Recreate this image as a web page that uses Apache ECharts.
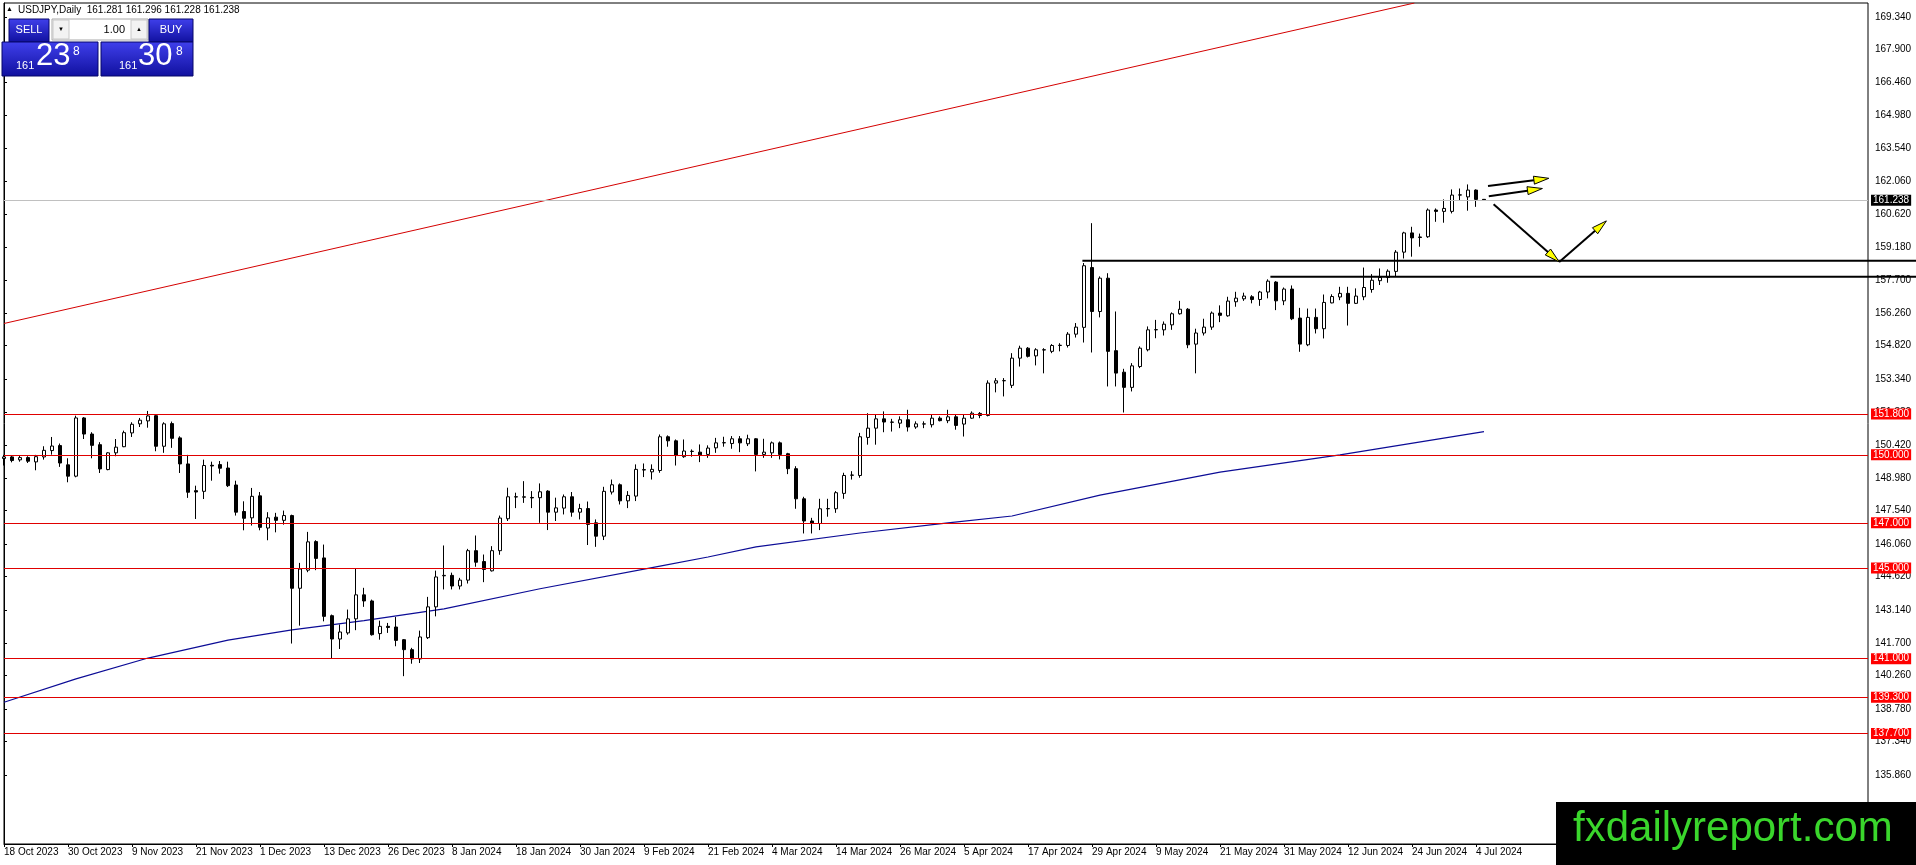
<!DOCTYPE html>
<html>
<head>
<meta charset="utf-8">
<title>USDJPY Daily</title>
<script src="https://cdn.jsdelivr.net/npm/echarts@6/dist/echarts.min.js"></script>
<style>
html, body { margin: 0; padding: 0; background: #fff; }
#box { width: 1916px; height: 865px; }
</style>
</head>
<body>
<div id="box"></div>
<script>
// trading days shown on the chart (no bars on 25 Dec and 1 Jan)
var dates = [
    '18 Oct 2023', '19 Oct 2023', '20 Oct 2023', '23 Oct 2023', '24 Oct 2023', '25 Oct 2023', '26 Oct 2023', '27 Oct 2023', '30 Oct 2023', '31 Oct 2023',
    '1 Nov 2023', '2 Nov 2023', '3 Nov 2023', '6 Nov 2023', '7 Nov 2023', '8 Nov 2023', '9 Nov 2023', '10 Nov 2023', '13 Nov 2023', '14 Nov 2023', '15 Nov 2023',
    '16 Nov 2023', '17 Nov 2023', '20 Nov 2023', '21 Nov 2023', '22 Nov 2023', '23 Nov 2023', '24 Nov 2023', '27 Nov 2023', '28 Nov 2023', '29 Nov 2023', '30 Nov 2023',
    '1 Dec 2023', '4 Dec 2023', '5 Dec 2023', '6 Dec 2023', '7 Dec 2023', '8 Dec 2023', '11 Dec 2023', '12 Dec 2023', '13 Dec 2023', '14 Dec 2023',
    '15 Dec 2023', '18 Dec 2023', '19 Dec 2023', '20 Dec 2023', '21 Dec 2023', '22 Dec 2023', '26 Dec 2023', '27 Dec 2023', '28 Dec 2023', '29 Dec 2023',
    '2 Jan 2024', '3 Jan 2024', '4 Jan 2024', '5 Jan 2024', '8 Jan 2024', '9 Jan 2024', '10 Jan 2024', '11 Jan 2024', '12 Jan 2024', '15 Jan 2024', '16 Jan 2024',
    '17 Jan 2024', '18 Jan 2024', '19 Jan 2024', '22 Jan 2024', '23 Jan 2024', '24 Jan 2024', '25 Jan 2024', '26 Jan 2024', '29 Jan 2024', '30 Jan 2024', '31 Jan 2024',
    '1 Feb 2024', '2 Feb 2024', '5 Feb 2024', '6 Feb 2024', '7 Feb 2024', '8 Feb 2024', '9 Feb 2024', '12 Feb 2024', '13 Feb 2024', '14 Feb 2024', '15 Feb 2024',
    '16 Feb 2024', '19 Feb 2024', '20 Feb 2024', '21 Feb 2024', '22 Feb 2024', '23 Feb 2024', '26 Feb 2024', '27 Feb 2024', '28 Feb 2024', '29 Feb 2024',
    '1 Mar 2024', '4 Mar 2024', '5 Mar 2024', '6 Mar 2024', '7 Mar 2024', '8 Mar 2024', '11 Mar 2024', '12 Mar 2024', '13 Mar 2024', '14 Mar 2024', '15 Mar 2024',
    '18 Mar 2024', '19 Mar 2024', '20 Mar 2024', '21 Mar 2024', '22 Mar 2024', '25 Mar 2024', '26 Mar 2024', '27 Mar 2024', '28 Mar 2024', '29 Mar 2024',
    '1 Apr 2024', '2 Apr 2024', '3 Apr 2024', '4 Apr 2024', '5 Apr 2024', '8 Apr 2024', '9 Apr 2024', '10 Apr 2024', '11 Apr 2024', '12 Apr 2024', '15 Apr 2024',
    '16 Apr 2024', '17 Apr 2024', '18 Apr 2024', '19 Apr 2024', '22 Apr 2024', '23 Apr 2024', '24 Apr 2024', '25 Apr 2024', '26 Apr 2024', '29 Apr 2024', '30 Apr 2024',
    '1 May 2024', '2 May 2024', '3 May 2024', '6 May 2024', '7 May 2024', '8 May 2024', '9 May 2024', '10 May 2024', '13 May 2024', '14 May 2024', '15 May 2024', '16 May 2024',
    '17 May 2024', '20 May 2024', '21 May 2024', '22 May 2024', '23 May 2024', '24 May 2024', '27 May 2024', '28 May 2024', '29 May 2024', '30 May 2024', '31 May 2024',
    '3 Jun 2024', '4 Jun 2024', '5 Jun 2024', '6 Jun 2024', '7 Jun 2024', '10 Jun 2024', '11 Jun 2024', '12 Jun 2024', '13 Jun 2024', '14 Jun 2024',
    '17 Jun 2024', '18 Jun 2024', '19 Jun 2024', '20 Jun 2024', '21 Jun 2024', '24 Jun 2024', '25 Jun 2024', '26 Jun 2024', '27 Jun 2024', '28 Jun 2024',
    '1 Jul 2024', '2 Jul 2024', '3 Jul 2024', '4 Jul 2024', '5 Jul 2024'
];

// [open, high, low, close] per day
var ohlc = [
    [149.84, 150.00, 149.53, 149.91], [149.91, 149.97, 149.67, 149.75], [149.78, 149.97, 149.70, 149.88], [149.88, 149.94, 149.64, 149.72],
    [149.69, 150.00, 149.32, 149.92], [149.91, 150.38, 149.79, 150.20], [150.19, 150.79, 150.01, 150.39], [150.41, 150.50, 149.47, 149.64],
    [149.56, 149.85, 148.79, 149.06], [149.06, 151.73, 149.01, 151.63], [151.63, 151.67, 150.70, 150.92], [150.92, 151.00, 149.85, 150.42],
    [150.45, 150.56, 149.20, 149.38], [149.35, 150.12, 149.32, 150.09], [150.09, 150.70, 149.94, 150.34], [150.36, 151.07, 150.34, 150.98],
    [150.97, 151.44, 150.79, 151.35], [151.37, 151.63, 151.23, 151.53], [151.50, 151.94, 151.20, 151.72], [151.73, 151.79, 150.16, 150.38],
    [150.38, 151.44, 150.09, 151.37], [151.38, 151.47, 150.31, 150.73], [150.75, 150.82, 149.20, 149.60], [149.60, 150.00, 148.10, 148.35],
    [148.42, 148.64, 147.17, 148.36], [148.39, 149.79, 148.05, 149.53], [149.54, 149.70, 148.86, 149.51], [149.57, 149.73, 149.17, 149.41],
    [149.42, 149.70, 148.58, 148.64], [148.67, 148.86, 147.32, 147.47], [147.50, 147.95, 146.67, 147.20], [147.22, 148.54, 146.88, 148.17],
    [148.19, 148.36, 146.67, 146.80], [146.77, 147.47, 146.23, 147.22], [147.25, 147.44, 146.58, 147.11], [147.11, 147.54, 146.92, 147.32],
    [147.32, 147.36, 141.67, 144.11], [144.11, 145.23, 142.46, 144.96], [144.91, 146.60, 144.82, 146.16], [146.17, 146.23, 144.91, 145.43],
    [145.45, 146.04, 142.65, 142.87], [142.90, 142.95, 141.02, 141.87], [141.87, 142.51, 141.43, 142.18], [142.14, 143.17, 142.06, 142.76],
    [142.76, 145.00, 142.26, 143.82], [143.82, 144.13, 143.29, 143.55], [143.55, 143.61, 142.02, 142.06], [142.11, 142.68, 141.84, 142.43],
    [142.43, 142.58, 142.14, 142.38], [142.40, 142.84, 141.55, 141.81], [141.84, 141.87, 140.23, 141.40], [141.40, 141.48, 140.78, 140.99],
    [140.99, 142.24, 140.81, 141.96], [141.93, 143.73, 141.87, 143.29], [143.29, 144.89, 142.87, 144.61], [144.66, 146.00, 144.06, 144.68],
    [144.68, 144.80, 144.06, 144.21], [144.21, 144.57, 144.06, 144.47], [144.47, 145.85, 144.32, 145.77], [145.77, 146.44, 145.06, 145.26],
    [145.29, 145.60, 144.38, 144.94], [144.88, 145.97, 144.85, 145.77], [145.77, 147.32, 145.59, 147.21], [147.18, 148.55, 147.08, 148.15],
    [148.15, 148.33, 147.65, 148.14], [148.13, 148.84, 147.88, 148.15], [148.12, 148.40, 147.65, 148.10], [148.11, 148.74, 147.00, 148.37],
    [148.40, 148.44, 146.68, 147.47], [147.47, 148.11, 147.08, 147.66], [147.65, 148.25, 147.37, 148.15], [148.15, 148.36, 147.27, 147.47],
    [147.47, 147.84, 147.15, 147.63], [147.63, 147.94, 146.02, 146.93], [147.00, 147.15, 145.94, 146.41], [146.41, 148.59, 146.24, 148.39],
    [148.36, 148.91, 148.25, 148.68], [148.68, 148.74, 147.81, 147.97], [147.97, 148.40, 147.65, 148.21], [148.18, 149.58, 147.96, 149.36],
    [149.33, 149.62, 149.02, 149.35], [149.25, 149.58, 148.91, 149.36], [149.31, 150.90, 149.21, 150.80], [150.80, 150.86, 150.36, 150.62],
    [150.62, 150.68, 149.53, 149.97], [149.92, 150.68, 149.87, 150.17], [150.15, 150.24, 149.92, 150.16], [150.12, 150.46, 149.68, 150.00],
    [150.02, 150.42, 149.87, 150.30], [150.31, 150.75, 150.09, 150.53], [150.53, 150.80, 150.36, 150.54], [150.50, 150.83, 150.27, 150.71],
    [150.71, 150.83, 150.12, 150.53], [150.49, 150.89, 150.39, 150.71], [150.71, 150.74, 149.27, 150.02], [150.02, 150.71, 149.87, 150.12],
    [150.09, 150.59, 149.87, 150.53], [150.53, 150.59, 149.80, 150.02], [150.05, 150.09, 149.15, 149.39], [149.39, 149.50, 147.62, 148.06],
    [148.06, 148.15, 146.53, 147.08], [147.08, 147.22, 146.53, 146.97], [146.97, 148.06, 146.68, 147.62], [147.62, 148.06, 147.27, 147.63],
    [147.62, 148.40, 147.44, 148.33], [148.30, 149.21, 148.06, 149.09], [149.10, 149.28, 148.91, 149.11], [149.09, 150.97, 148.99, 150.80],
    [150.77, 151.84, 150.45, 151.18], [151.18, 151.80, 150.45, 151.59], [151.59, 151.92, 151.00, 151.45], [151.45, 151.59, 151.03, 151.44],
    [151.40, 151.70, 151.18, 151.55], [151.55, 151.99, 151.03, 151.23], [151.23, 151.48, 151.15, 151.37], [151.36, 151.48, 151.18, 151.37],
    [151.33, 151.77, 151.21, 151.62], [151.62, 151.70, 151.48, 151.51], [151.51, 151.99, 151.40, 151.68], [151.68, 151.77, 151.11, 151.30],
    [151.36, 151.77, 150.81, 151.62], [151.62, 151.92, 151.59, 151.84], [151.83, 151.89, 151.62, 151.74], [151.74, 153.29, 151.70, 153.17],
    [153.17, 153.39, 152.76, 153.27], [153.27, 153.39, 152.58, 153.28], [153.07, 154.49, 152.95, 154.27], [154.27, 154.82, 153.90, 154.71],
    [154.71, 154.76, 154.30, 154.35], [154.37, 154.71, 153.95, 154.64], [154.64, 154.71, 153.60, 154.63], [154.57, 154.89, 154.49, 154.83],
    [154.83, 154.93, 154.57, 154.84], [154.83, 155.42, 154.74, 155.33], [155.33, 155.82, 155.18, 155.64], [155.63, 158.47, 154.96, 158.35],
    [158.27, 160.23, 154.52, 156.33], [156.33, 157.88, 156.07, 157.80], [157.80, 158.02, 153.02, 154.57], [154.60, 156.33, 153.02, 153.61],
    [153.65, 153.80, 151.87, 152.98], [152.98, 154.05, 152.80, 153.93], [153.90, 154.79, 153.83, 154.71], [154.64, 155.67, 154.57, 155.52],
    [155.52, 155.96, 155.15, 155.53], [155.52, 155.89, 155.27, 155.77], [155.74, 156.29, 155.52, 156.23], [156.23, 156.80, 156.19, 156.43],
    [156.43, 156.48, 154.71, 154.86], [154.89, 155.57, 153.60, 155.38], [155.38, 156.01, 155.27, 155.64], [155.64, 156.33, 155.52, 156.26],
    [156.26, 156.60, 155.86, 156.16], [156.14, 156.98, 156.10, 156.79], [156.76, 157.20, 156.54, 156.92], [156.89, 157.16, 156.80, 157.01],
    [156.98, 157.05, 156.69, 156.86], [156.86, 157.24, 156.58, 157.19], [157.19, 157.75, 156.91, 157.67], [157.63, 157.67, 156.39, 156.80],
    [156.80, 157.39, 156.61, 157.32], [157.32, 157.48, 155.95, 156.01], [156.04, 156.49, 154.55, 154.89], [154.86, 156.46, 154.80, 156.07],
    [156.07, 156.46, 155.36, 155.57], [155.57, 157.08, 155.14, 156.73], [156.71, 157.09, 156.69, 156.99], [156.97, 157.42, 156.83, 157.13],
    [157.13, 157.42, 155.71, 156.69], [156.69, 157.35, 156.66, 157.01], [156.98, 158.27, 156.83, 157.39], [157.30, 157.98, 157.16, 157.71],
    [157.69, 158.23, 157.50, 157.83], [157.83, 158.19, 157.60, 158.11], [158.10, 159.04, 157.86, 158.95], [158.95, 159.85, 158.67, 159.80],
    [159.80, 160.07, 158.75, 159.58], [159.62, 159.77, 159.19, 159.60], [159.63, 160.88, 159.58, 160.81], [160.81, 160.88, 160.29, 160.75],
    [160.75, 161.28, 160.25, 160.88], [160.75, 161.72, 160.66, 161.47], [161.47, 161.76, 161.25, 161.48], [161.39, 161.94, 160.78, 161.69],
    [161.69, 161.72, 160.95, 161.28], [161.281, 161.296, 161.228, 161.238]
];

// moving average read at a few bars: [bar index, value]
var maPoints = [
    [0, 139.08], [9, 140.11], [18, 141.03], [28, 141.82], [36, 142.27], [45, 142.68], [55, 143.20], [67, 144.09], [82, 145.09],
    [88, 145.49], [94, 145.94], [107, 146.55], [118, 147.00], [126, 147.30], [137, 148.22], [152, 149.24], [167, 150.00], [185, 151.03]
];

var priceTicks = [169.34, 167.90, 166.46, 164.98, 163.54, 162.06, 160.62, 159.18, 157.70, 156.26, 154.82, 153.34, 151.88,
    150.42, 148.98, 147.54, 146.06, 144.62, 143.14, 141.70, 140.26, 138.78, 137.34, 135.86];
var levels = [151.8, 150.0, 147.0, 145.0, 141.0, 139.3, 137.7];
var lastPrice = 161.238;
// black horizontal lines: [start bar, price]
var zones = [[134.8, 158.57], [158.3, 157.86]];
var trendLine = [[0, 155.80], [176.3, 169.95]];
// arrows: [from bar, from price, to bar, to price]
var arrows = [
    [185.5, 161.87, 193.1, 162.21],
    [185.6, 161.42, 192.3, 161.76],
    [186.2, 161.06, 194.4, 158.52],
    [194.4, 158.52, 200.3, 160.33]
];

var SLOTS = 234; // bars + empty space on the right
var cats = dates.slice();
while (cats.length < SLOTS) cats.push('');
var font = '"Liberation Sans", Arial, sans-serif';

function showDate(i, v) { return i % 8 === 0 && v !== ''; }

var myChart = echarts.init(document.getElementById('box'));
var option = {
    animation: false,
    backgroundColor: '#ffffff',
    grid: {
        left: 4, right: 48, top: 3, bottom: 21,
        show: true, borderColor: '#000', borderWidth: 1,
        outerBoundsMode: 'none'
    },
    xAxis: [{
        type: 'category',
        data: cats,
        boundaryGap: false,
        axisLine: { lineStyle: { color: '#000' } },
        axisTick: { length: 3, interval: showDate, lineStyle: { color: '#000' } },
        axisLabel: { interval: showDate, align: 'left', margin: 3, fontSize: 10, color: '#000', fontFamily: font },
        splitLine: { show: false }
    }, {
        type: 'value', min: 0, max: SLOTS - 1, show: false
    }],
    yAxis: [{
        type: 'value',
        position: 'right',
        min: 132.82,
        max: 169.95,
        axisLine: { show: true, lineStyle: { color: '#000' } },
        axisTick: { show: true, length: 3, customValues: priceTicks, lineStyle: { color: '#000' } },
        axisLabel: {
            customValues: priceTicks,
            formatter: function (v) { return v.toFixed(3); },
            fontSize: 10, color: '#000', margin: 7, fontFamily: font
        },
        splitLine: { show: false }
    }],
    series: [
        {
            name: 'MA',
            type: 'line',
            xAxisIndex: 1,
            data: maPoints,
            symbol: 'none',
            lineStyle: { color: '#0c0c96', width: 1.2 },
            z: 1
        },
        {
            name: 'trend',
            type: 'line',
            xAxisIndex: 1,
            data: trendLine,
            symbol: 'none',
            lineStyle: { color: '#d40000', width: 1 },
            z: 1
        },
        {
            name: 'USDJPY',
            type: 'candlestick',
            xAxisIndex: 0,
            data: ohlc.map(function (d) { return [d[0], d[3], d[2], d[1]]; }),
            barWidth: 4,
            itemStyle: { color: '#ffffff', color0: '#000000', borderColor: '#000000', borderColor0: '#000000', borderWidth: 1 },
            z: 3,
            markLine: {
                silent: true,
                symbol: ['none', 'none'],
                data: levels.map(function (v) {
                    return {
                        name: v.toFixed(3),
                        yAxis: v,
                        lineStyle: { color: '#e00000', width: 1, type: 'solid' },
                        label: { backgroundColor: '#ff0000', color: '#ffffff' }
                    };
                }).concat([{
                    name: lastPrice.toFixed(3),
                    yAxis: lastPrice,
                    lineStyle: { color: '#c0c0c0', width: 1, type: 'solid' },
                    label: { backgroundColor: '#000000', color: '#ffffff' }
                }]),
                label: {
                    show: true, position: 'end', distance: 3,
                    formatter: '{b}',
                    fontSize: 10, fontFamily: font, padding: [1, 2, 0, 2]
                }
            }
        }
    ].concat(zones.map(function (z) {
        return {
            type: 'line',
            xAxisIndex: 1,
            data: [[z[0], z[1]], [SLOTS - 1, z[1]]],
            symbol: 'none',
            lineStyle: { color: '#000', width: 2 },
            z: 4
        };
    }))
};
myChart.setOption(option);

function px(x, y) {
    return myChart.convertToPixel({ xAxisIndex: 1, yAxisIndex: 0 }, [x, y]);
}

var g = [];
// black lines also run over the price scale
zones.forEach(function (z) {
    var p = px(SLOTS - 1, z[1]);
    g.push({ type: 'line', shape: { x1: p[0], y1: p[1], x2: 1916, y2: p[1] }, style: { stroke: '#000', lineWidth: 2 }, z: 40 });
});
// yellow arrows
arrows.forEach(function (a) {
    var p0 = px(a[0], a[1]), p1 = px(a[2], a[3]);
    var dx = p1[0] - p0[0], dy = p1[1] - p0[1];
    var len = Math.sqrt(dx * dx + dy * dy);
    var ux = dx / len, uy = dy / len;
    var hl = 15, hw = 4;
    var bx = p1[0] - ux * hl, by = p1[1] - uy * hl;
    g.push({ type: 'line', shape: { x1: p0[0], y1: p0[1], x2: bx, y2: by }, style: { stroke: '#000', lineWidth: 2 }, z: 50 });
    g.push({
        type: 'polygon',
        shape: { points: [[p1[0], p1[1]], [bx - uy * hw, by + ux * hw], [bx + uy * hw, by - ux * hw]] },
        style: { fill: '#ffff00', stroke: '#000', lineWidth: 1 },
        z: 51
    });
});

// header line
g.push({ type: 'text', x: 6, y: 6, style: { text: '▲', fill: '#000', font: '7px ' + font }, z: 60 });
g.push({ type: 'text', x: 18, y: 5, style: { text: 'USDJPY,Daily  161.281 161.296 161.228 161.238', fill: '#000', font: '10px ' + font }, z: 60 });

// one click trading panel
function blue() {
    return { type: 'linear', x: 0, y: 0, x2: 0, y2: 1, colorStops: [{ offset: 0, color: '#4040ec' }, { offset: 1, color: '#10109e' }] };
}
var panel = [
    { type: 'rect', shape: { x: 9, y: 19, width: 40, height: 23 }, style: { fill: blue(), stroke: '#06066a' } },
    { type: 'text', x: 29, y: 30, style: { text: 'SELL', fill: '#fff', font: '11px ' + font, align: 'center', verticalAlign: 'middle' } },
    { type: 'rect', shape: { x: 52, y: 19, width: 96, height: 21 }, style: { fill: '#fff', stroke: '#a8a8a8' } },
    { type: 'rect', shape: { x: 53, y: 20, width: 16, height: 19 }, style: { fill: '#f2f2f2', stroke: '#c8c8c8' } },
    { type: 'text', x: 61, y: 29.5, style: { text: '▼', fill: '#000', font: '6px ' + font, align: 'center', verticalAlign: 'middle' } },
    { type: 'text', x: 125, y: 29.5, style: { text: '1.00', fill: '#000', font: '11px ' + font, align: 'right', verticalAlign: 'middle' } },
    { type: 'rect', shape: { x: 131, y: 20, width: 16, height: 19 }, style: { fill: '#f2f2f2', stroke: '#c8c8c8' } },
    { type: 'text', x: 139, y: 29.5, style: { text: '▲', fill: '#000', font: '6px ' + font, align: 'center', verticalAlign: 'middle' } },
    { type: 'rect', shape: { x: 149, y: 19, width: 44, height: 23 }, style: { fill: blue(), stroke: '#06066a' } },
    { type: 'text', x: 171, y: 30, style: { text: 'BUY', fill: '#fff', font: '11px ' + font, align: 'center', verticalAlign: 'middle' } },
    { type: 'rect', shape: { x: 2, y: 42, width: 96, height: 34 }, style: { fill: blue(), stroke: '#06066a' } },
    { type: 'text', x: 16, y: 66, style: { text: '161', fill: '#fff', font: '11px ' + font, verticalAlign: 'middle' } },
    { type: 'text', x: 36, y: 56, style: { text: '23', fill: '#fff', font: '31px ' + font, verticalAlign: 'middle' } },
    { type: 'text', x: 73, y: 52, style: { text: '8', fill: '#fff', font: '12px ' + font, verticalAlign: 'middle' } },
    { type: 'rect', shape: { x: 101, y: 42, width: 92, height: 34 }, style: { fill: blue(), stroke: '#06066a' } },
    { type: 'text', x: 119, y: 66, style: { text: '161', fill: '#fff', font: '11px ' + font, verticalAlign: 'middle' } },
    { type: 'text', x: 138, y: 56, style: { text: '30', fill: '#fff', font: '31px ' + font, verticalAlign: 'middle' } },
    { type: 'text', x: 176, y: 52, style: { text: '8', fill: '#fff', font: '12px ' + font, verticalAlign: 'middle' } }
];
panel.forEach(function (e) { e.z = 60; g.push(e); });

// watermark box
g.push({ type: 'rect', shape: { x: 1556, y: 802, width: 360, height: 63 }, style: { fill: '#000' }, z: 70 });
g.push({ type: 'text', x: 1573, y: 829, style: { text: 'fxdailyreport.com', fill: '#3ad62c', font: '42px ' + font, verticalAlign: 'middle' }, z: 71 });

myChart.setOption({ graphic: g });
</script>
</body>
</html>
